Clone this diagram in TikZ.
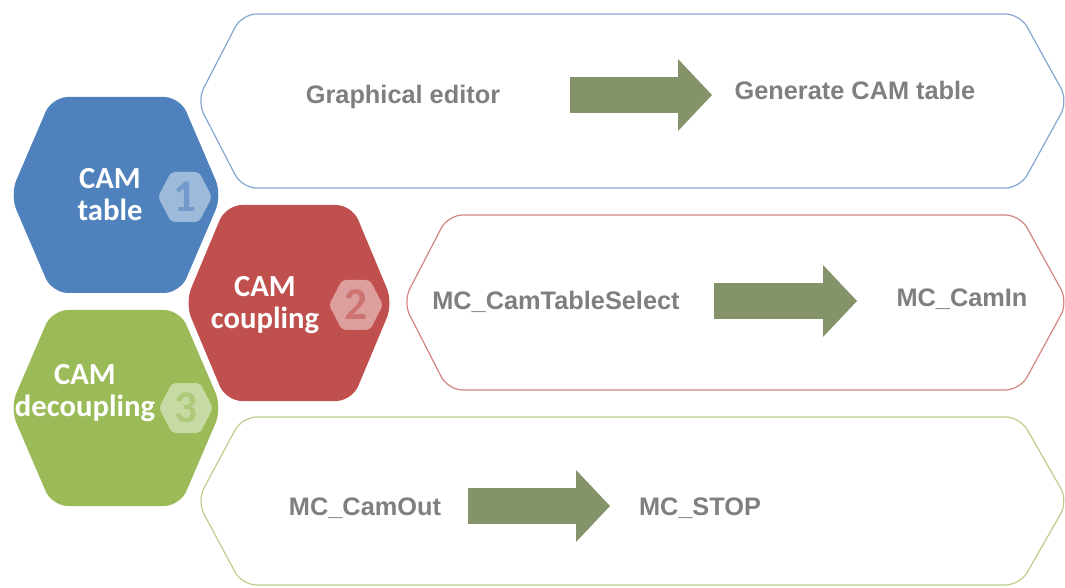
\documentclass[tikz,border=0pt]{standalone}
\usepackage{fontspec}
\setmainfont{Liberation Sans}
\newfontfamily\calibri{Carlito}
\usetikzlibrary{arrows.meta}
\definecolor{camblue}{HTML}{4F81BD}
\definecolor{camred}{HTML}{C0504D}
\definecolor{camgreen}{HTML}{9BBB59}
\definecolor{arrowgreen}{HTML}{85936A}
\definecolor{txtgray}{HTML}{7F7F7F}

\begin{document}
\begin{tikzpicture}[x=0.75pt,y=-0.75pt,line join=round,
    hexlabel/.style={text=white,font=\calibri\bfseries\fontsize{23}{24}\selectfont,align=center,inner sep=0pt},
    hexnum/.style={font=\calibri\bfseries\fontsize{34}{34}\selectfont,inner sep=0pt},
    steptext/.style={text=txtgray,font=\bfseries\fontsize{19}{22}\selectfont,inner sep=0pt},
    fatarrow/.style={arrowgreen,line width=27pt,-{Triangle[length=25.5pt,width=54pt,line width=0pt]}},
    panel/.style={line width=0.9pt,rounded corners=11pt}]
    \useasboundingbox (0,0) rectangle (1065,588);
    \clip (0,0) rectangle (1065,588);
    % panels
    \draw[panel,camblue!70!white]  (197,101) -- (242,14) -- (1020,14) -- (1068,101) -- (1020,188) -- (242,188) -- cycle;
    \draw[panel,camred!70!white]   (403,302) -- (448,215) -- (1020,215) -- (1068,302) -- (1020,390) -- (448,390) -- cycle;
    \draw[panel,camgreen!70!white] (197,501) -- (242,417) -- (1020,417) -- (1068,501) -- (1020,585) -- (242,585) -- cycle;
    % hexagons
    \begin{scope}[shift={(116,195)}]
      \fill[camblue,rounded corners=12pt] (-106,0) -- (-64,-98) -- (64,-98) -- (106,0) -- (64,98) -- (-64,98) -- cycle;
      \fill[camblue!55!white,rounded corners=3pt] (42,2) -- (55,-23) -- (83,-23) -- (96,2) -- (83,27) -- (55,27) -- cycle;
      \node[hexlabel] (tablelbl) at (-6,0) {CAM\\table};
      \node[hexnum,text=camblue!80!white] (num1) at (69,2) {1};
    \end{scope}
    \begin{scope}[shift={(289,303)}]
      \fill[camred,rounded corners=12pt] (-104,0) -- (-63,-98) -- (63,-98) -- (104,0) -- (63,98) -- (-63,98) -- cycle;
      \fill[camred!55!white,rounded corners=3pt] (40,2) -- (53,-23) -- (81,-23) -- (94,2) -- (81,27) -- (53,27) -- cycle;
      \node[hexlabel] (couplinglbl) at (-24,2) {CAM\\coupling};
      \node[hexnum,text=camred!80!white] (num2) at (67,2) {2};
    \end{scope}
    \begin{scope}[shift={(116,408)}]
      \fill[camgreen,rounded corners=12pt] (-106,0) -- (-64,-98) -- (64,-98) -- (106,0) -- (64,98) -- (-64,98) -- cycle;
      \fill[camgreen!55!white,rounded corners=3pt] (43,0) -- (56,-25) -- (84,-25) -- (97,0) -- (84,25) -- (56,25) -- cycle;
      \node[hexlabel] (decouplinglbl) at (-31,-15) {CAM\\decoupling};
      \node[hexnum,text=camgreen!80!white] (num3) at (70,0) {3};
    \end{scope}
    % steps
    \node[steptext] (editor)   at (403,97)  {Graphical editor};
    \node[steptext] (gentable) at (855,90)  {Generate CAM table};
    \node[steptext] (select)   at (556,302) {MC\_CamTableSelect};
    \node[steptext] (camin)    at (962,299) {MC\_CamIn};
    \node[steptext] (camout)   at (365,508) {MC\_CamOut};
    \node[steptext] (stop)     at (700,508) {MC\_STOP};
    \coordinate (a1s) at (570,95);  \coordinate (a1e) at (712,95);
    \coordinate (a2s) at (714,301); \coordinate (a2e) at (857,301);
    \coordinate (a3s) at (468,506); \coordinate (a3e) at (610,506);
    \draw[fatarrow] (a1s) -- (a1e);
    \draw[fatarrow] (a2s) -- (a2e);
    \draw[fatarrow] (a3s) -- (a3e);
\end{tikzpicture}
\end{document}
